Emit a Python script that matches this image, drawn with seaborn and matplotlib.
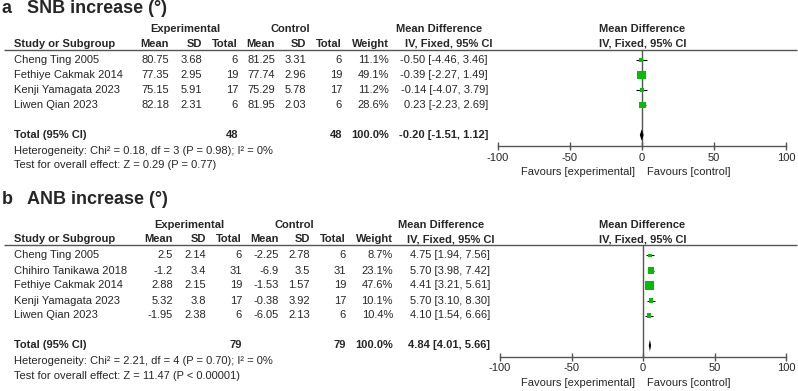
import matplotlib
matplotlib.use('Agg')
import matplotlib.pyplot as plt
import numpy as np
import pandas as pd
import seaborn as sns

# ---------------- data ----------------
# a) SNB increase
snb_study  = ['Cheng Ting 2005', 'Fethiye Cakmak 2014', 'Kenji Yamagata 2023', 'Liwen Qian 2023']
snb_e_mean = [80.75, 77.35, 75.15, 82.18]
snb_e_sd   = [3.68, 2.95, 5.91, 2.31]
snb_e_n    = [6, 19, 17, 6]
snb_c_mean = [81.25, 77.74, 75.29, 81.95]
snb_c_sd   = [3.31, 2.96, 5.78, 2.03]
snb_c_n    = [6, 19, 17, 6]
snb_weight = [11.1, 49.1, 11.2, 28.6]
snb_md     = [-0.50, -0.39, -0.14, 0.23]
snb_lo     = [-4.46, -2.27, -4.07, -2.23]
snb_hi     = [3.46, 1.49, 3.79, 2.69]
snb_total  = (-0.20, -1.51, 1.12)
snb_het    = 'Heterogeneity: Chi² = 0.18, df = 3 (P = 0.98); I² = 0%'
snb_test   = 'Test for overall effect: Z = 0.29 (P = 0.77)'

# b) ANB increase
anb_study  = ['Cheng Ting 2005', 'Chihiro Tanikawa 2018', 'Fethiye Cakmak 2014',
              'Kenji Yamagata 2023', 'Liwen Qian 2023']
anb_e_mean = [2.5, -1.2, 2.88, 5.32, -1.95]
anb_e_sd   = [2.14, 3.4, 2.15, 3.8, 2.38]
anb_e_n    = [6, 31, 19, 17, 6]
anb_c_mean = [-2.25, -6.9, -1.53, -0.38, -6.05]
anb_c_sd   = [2.78, 3.5, 1.57, 3.92, 2.13]
anb_c_n    = [6, 31, 19, 17, 6]
anb_weight = [8.7, 23.1, 47.6, 10.1, 10.4]
anb_md     = [4.75, 5.70, 4.41, 5.70, 4.10]
anb_lo     = [1.94, 3.98, 3.21, 3.10, 1.54]
anb_hi     = [7.56, 7.42, 5.61, 8.30, 6.66]
anb_total  = (4.84, 4.01, 5.66)
anb_het    = 'Heterogeneity: Chi² = 2.21, df = 4 (P = 0.70); I² = 0%'
anb_test   = 'Test for overall effect: Z = 11.47 (P < 0.00001)'

x_ticks = [-100, -50, 0, 50, 100]

# ---------------- style ----------------
sns.set_theme(style='white')
plt.rcParams['font.family'] = ['Liberation Sans', 'DejaVu Sans']
GREEN = '#00BE00'
GREY = '#555555'
W, H = 798, 391
FS = 8

fig = plt.figure(figsize=(W / 100, H / 100), dpi=100)
bg = fig.add_axes([0, 0, 1, 1])
bg.set_xlim(0, W)
bg.set_ylim(H, 0)
bg.axis('off')


def draw_panel(letter, title, title_y, line_y, dx, ax_left, study, e_mean, e_sd, e_n,
               c_mean, c_sd, c_n, weight, md, lo, hi, total, het, test):
    n = len(study)
    cols = [169 + dx, 202 + dx, 238 + dx, 275 + dx, 306 + dx, 342 + dx, 389 + dx]
    md_x = 488 + dx / 2

    bg.text(2, title_y, letter, fontsize=13, fontweight='bold', va='center')
    bg.text(27, title_y, title, fontsize=13, fontweight='bold', va='center')

    hy = line_y - 5.5
    bg.text(185 + dx, line_y - 20.5, 'Experimental', fontsize=FS, fontweight='bold', ha='center', va='center')
    bg.text(290 + dx, line_y - 20.5, 'Control', fontsize=FS, fontweight='bold', ha='center', va='center')
    bg.text(439.5 + dx / 2, line_y - 20.5, 'Mean Difference', fontsize=FS, fontweight='bold', ha='center', va='center')
    bg.text(642, line_y - 20.5, 'Mean Difference', fontsize=FS, fontweight='bold', ha='center', va='center')
    bg.text(14, hy, 'Study or Subgroup', fontsize=FS, fontweight='bold', va='center')
    for x, lab in zip(cols, ['Mean', 'SD', 'Total', 'Mean', 'SD', 'Total', 'Weight']):
        bg.text(x, hy, lab, fontsize=FS, fontweight='bold', ha='right', va='center')
    bg.text(448.5 + dx / 2, hy, 'IV, Fixed, 95% CI', fontsize=FS, fontweight='bold', ha='center', va='center')
    bg.text(643, hy, 'IV, Fixed, 95% CI', fontsize=FS, fontweight='bold', ha='center', va='center')
    bg.hlines(line_y, 4, 797, color=GREY, lw=1)

    for i in range(n):
        y = line_y + 10.5 + 15 * i
        bg.text(14, y, study[i], fontsize=FS, va='center')
        vals = [str(e_mean[i]), str(e_sd[i]), str(e_n[i]), str(c_mean[i]), str(c_sd[i]),
                str(c_n[i]), '%.1f%%' % weight[i]]
        for x, v in zip(cols, vals):
            bg.text(x, y, v, fontsize=FS, ha='right', va='center')
        bg.text(md_x, y, '%.2f [%.2f, %.2f]' % (md[i], lo[i], hi[i]), fontsize=FS, ha='right', va='center')

    ty = line_y + 10.5 + 15 * (n + 1)
    bg.text(14, ty, 'Total (95% CI)', fontsize=FS, fontweight='bold', va='center')
    bg.text(cols[2], ty, str(sum(e_n)), fontsize=FS, fontweight='bold', ha='right', va='center')
    bg.text(cols[5], ty, str(sum(c_n)), fontsize=FS, fontweight='bold', ha='right', va='center')
    bg.text(cols[6], ty, '100.0%', fontsize=FS, fontweight='bold', ha='right', va='center')
    bg.text(md_x, ty, '%.2f [%.2f, %.2f]' % total, fontsize=FS, fontweight='bold', ha='right', va='center')
    bg.text(14, ty + 15.5, het, fontsize=FS, va='center')
    bg.text(14, ty + 30.5, test, fontsize=FS, va='center')
    bg.text(635, ty + 37, 'Favours [experimental]', fontsize=FS, ha='right', va='center')
    bg.text(647, ty + 37, 'Favours [control]', fontsize=FS, ha='left', va='center')

    # forest plot axes
    axis_y = ty + 11
    ax = fig.add_axes([ax_left / W, (H - axis_y) / H, (786 - ax_left) / W, (axis_y - line_y) / H])
    ax.patch.set_alpha(0)
    df = pd.DataFrame({'row': np.arange(n), 'md': md, 'lo': lo, 'hi': hi, 'weight': weight})
    ax.axvline(0, color=GREY, lw=1, zorder=1)
    ax.hlines(df['row'], df['lo'], df['hi'], color='black', lw=0.8, zorder=2)
    sns.scatterplot(data=df, x='md', y='row', size='weight', sizes=(0, 85), size_norm=(0, 100),
                    marker='s', color=GREEN, linewidth=0, legend=False, ax=ax, zorder=3)
    m, l, h = total
    yt = n + 1
    ax.fill([l, m, h, m], [yt, yt - 0.38, yt, yt + 0.38], color='black', lw=0, zorder=3)

    ax.set_xlim(-100, 100)
    ax.set_ylim(n + 1 + 11 / 15, -10.5 / 15)
    ax.set_xticks(x_ticks)
    ax.set_xticklabels([str(t) for t in x_ticks])
    ax.set_yticks([])
    ax.set_xlabel('')
    ax.set_ylabel('')
    for s in ['left', 'right', 'top']:
        ax.spines[s].set_visible(False)
    ax.spines['bottom'].set_color(GREY)
    ax.spines['bottom'].set_linewidth(1)
    ax.tick_params(axis='x', direction='inout', length=6, width=1, color=GREY,
                   labelsize=FS, pad=2, bottom=True)


draw_panel('a', 'SNB increase (°)', 8.5, 49.5, 0, 498, snb_study, snb_e_mean, snb_e_sd, snb_e_n,
           snb_c_mean, snb_c_sd, snb_c_n, snb_weight, snb_md, snb_lo, snb_hi, snb_total,
           snb_het, snb_test)
draw_panel('b', 'ANB increase (°)', 200, 245, 4, 500, anb_study, anb_e_mean, anb_e_sd, anb_e_n,
           anb_c_mean, anb_c_sd, anb_c_n, anb_weight, anb_md, anb_lo, anb_hi, anb_total,
           anb_het, anb_test)

fig.savefig('out.png', dpi=100)
